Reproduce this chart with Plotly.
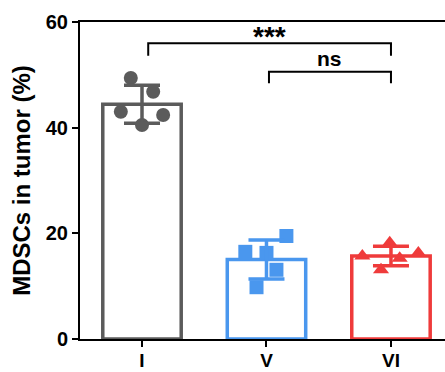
import plotly.graph_objects as go
import numpy as np

groups = ["I", "V", "VI"]
colors = ["#5b5b5b", "#4a97ee", "#ef3b3b"]
symbols = ["circle", "square", "triangle-up"]
values = {
    "I": [49.4, 46.8, 43.0, 42.4, 40.5],
    "V": [19.5, 16.5, 16.3, 13.1, 9.8],
    "VI": [18.2, 15.7, 16.3, 15.3, 13.1],
}
x_offsets = {
    "I": [-0.09, 0.09, -0.17, 0.17, 0.0],
    "V": [0.16, -0.17, 0.0, 0.08, -0.08],
    "VI": [-0.01, -0.23, 0.22, 0.07, -0.08],
}
brackets = [
    # (x_start, x_end, y_line, y_foot, label, label_y, label_size)
    (0.05, 2.0, 56.0, 53.6, "***", 57.3, 28),
    (1.02, 2.0, 50.6, 48.4, "ns", 53.0, 21),
]

font_family = "Liberation Sans, Arial, sans-serif"
fig = go.Figure()

for i, g in enumerate(groups):
    v = np.array(values[g])
    mean = v.mean()
    sd = v.std(ddof=1)
    fig.add_trace(go.Bar(
        x=[i], y=[mean], width=0.63,
        marker=dict(color="white", line=dict(color=colors[i], width=3.5)),
        showlegend=False,
    ))
    fig.add_trace(go.Scatter(
        x=[i + o for o in x_offsets[g]], y=v, mode="markers",
        marker=dict(symbol=symbols[i], color=colors[i], size=14,
                    line=dict(width=0)),
        showlegend=False,
    ))
    fig.add_trace(go.Scatter(
        x=[i], y=[mean], mode="markers",
        marker=dict(size=0.1, color=colors[i]),
        error_y=dict(type="data", array=[sd], color=colors[i],
                     thickness=3.5, width=18),
        showlegend=False,
    ))

for x0, x1, yl, yf, label, ly, fs in brackets:
    fig.add_trace(go.Scatter(
        x=[x0, x0, x1, x1], y=[yf, yl, yl, yf], mode="lines",
        line=dict(color="black", width=2), showlegend=False,
    ))
    fig.add_annotation(x=(x0 + x1) / 2, y=ly, text=f"<b>{label}</b>",
                       showarrow=False, yanchor="middle",
                       font=dict(size=fs, color="black", family=font_family))

fig.update_layout(
    width=445, height=372,
    margin=dict(l=80, r=0, t=22, b=33),
    plot_bgcolor="white", paper_bgcolor="white",
    barmode="overlay",
    font=dict(family=font_family, color="black"),
    xaxis=dict(
        range=[-0.498, 2.434], tickmode="array",
        tickvals=[0, 1, 2], ticktext=[f"<b>{g}</b>" for g in groups],
        showline=True, linecolor="black", linewidth=2, mirror=True,
        ticks="outside", ticklen=6, tickwidth=2, tickcolor="black",
        tickfont=dict(size=19), ticklabelstandoff=-3,
        showgrid=False, zeroline=False, automargin=False,
    ),
    yaxis=dict(
        range=[0, 60], tickvals=[0, 20, 40, 60],
        ticktext=["<b>0</b>", "<b>20</b>", "<b>40</b>", "<b>60</b>"],
        showline=True, linecolor="black", linewidth=2,
        ticks="outside", ticklen=6, tickwidth=2, tickcolor="black",
        tickfont=dict(size=20), showgrid=False, zeroline=False,
        automargin=False,
        title=dict(text="<b>MDSCs in tumor (%)</b>", font=dict(size=24),
                   standoff=8),
    ),
)

fig.write_html("out.html")
